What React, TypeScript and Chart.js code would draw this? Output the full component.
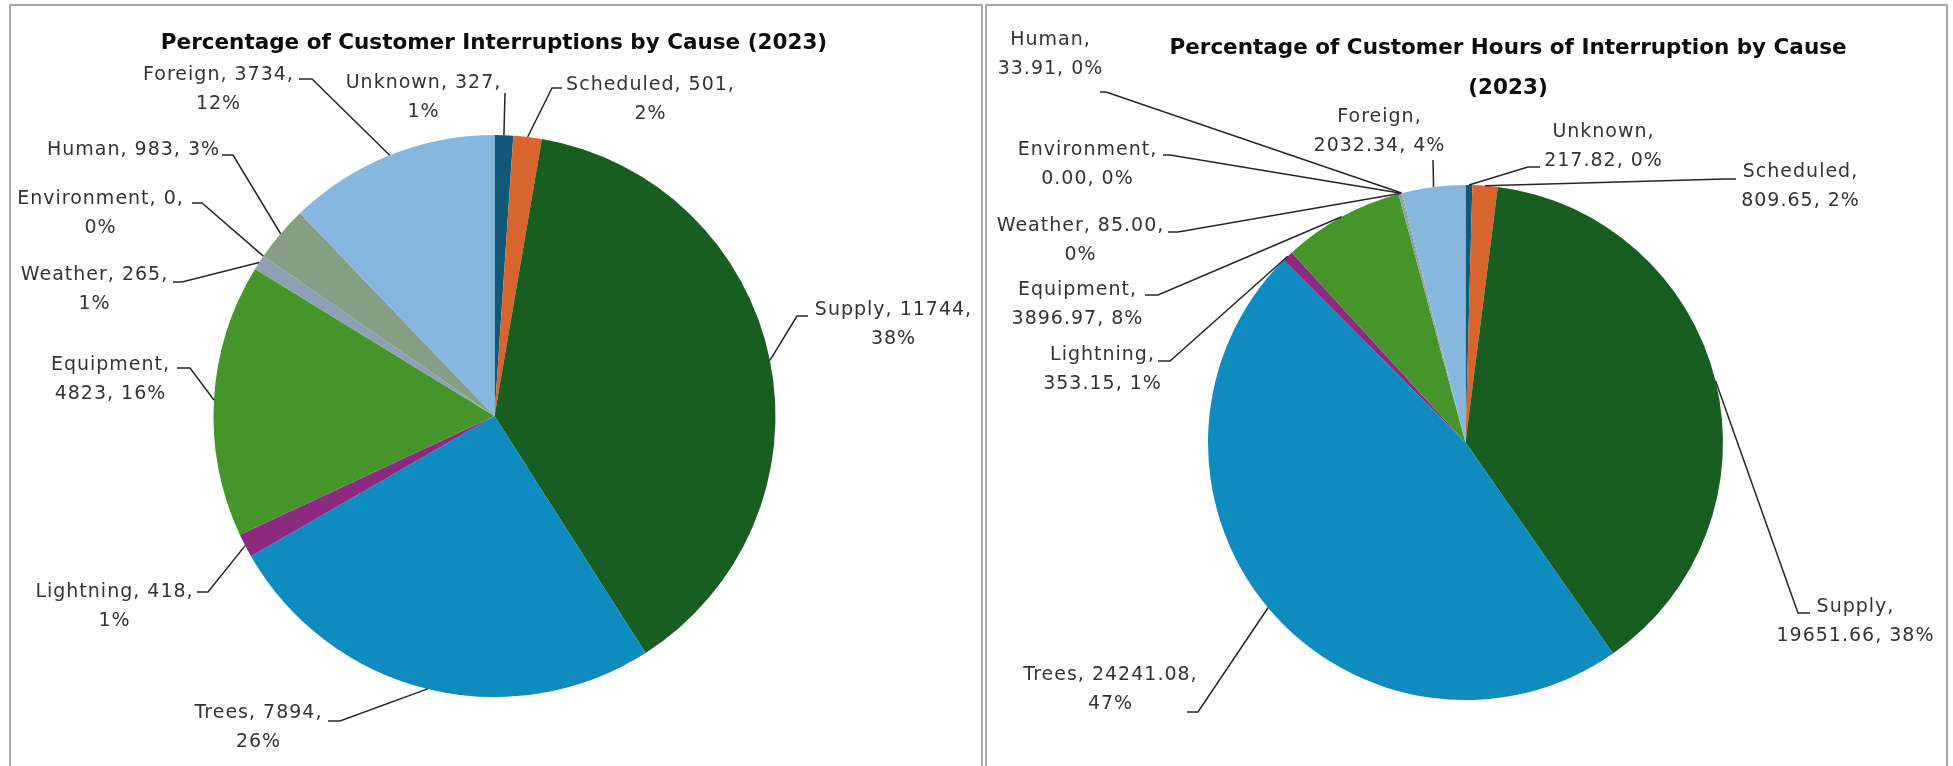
import React, { useEffect, useRef } from 'react';
import { Chart, registerables } from 'chart.js';

Chart.register(...registerables);

const PAGE_W = 1953;
const PAGE_H = 766;

// ---------- data ----------
const causes = ['Unknown', 'Scheduled', 'Supply', 'Trees', 'Lightning', 'Equipment', 'Weather', 'Environment', 'Human', 'Foreign'];
const customerInterruptions = [327, 501, 11744, 7894, 418, 4823, 265, 0, 983, 3734];
const customerHours = [217.82, 809.65, 19651.66, 24241.08, 353.15, 3896.97, 85.0, 0.0, 33.91, 2032.34];
const causeColors = ['#11587B', '#D8652E', '#185E21', '#0E8CBF', '#8C2A82', '#46952A', '#8DA0B6', '#9B9B9B', '#879E86', '#86B8DF'];

const leftTitleLines = ['Percentage of Customer Interruptions by Cause (2023)'];
const rightTitleLines = ['Percentage of Customer Hours of Interruption by Cause', '(2023)'];

// ---------- layout (pie geometry, label placement) ----------
const leftPieBox = { cx: 494.5, cy: 416, r: 281 };
const rightPieBox = { cx: 1465.5, cy: 442.5, r: 257.5 };
const leftTitlePos = { x: 494, y: 43, lh: 40 };
const rightTitlePos = { x: 1508, y: 48, lh: 40 };

// [textCenterX, firstLineY, partsOnFirstLine, leaderStartX, leaderStartY, elbowX, elbowY]
const leftLabelLayout = [
  [423, 83, 2, 505, 93, 505, 93],
  [650, 85, 2, 562, 88, 552, 88],
  [893, 310, 2, 808, 316, 797, 316],
  [258, 713, 2, 328, 721, 340, 721],
  [114, 592, 2, 197, 592, 208, 592],
  [110, 365, 1, 177, 368, 190, 368],
  [94, 275, 2, 173, 282, 182, 282],
  [100, 199, 2, 192, 203, 202, 203],
  [133, 150, 3, 222, 155, 233, 155],
  [218, 75, 2, 299, 79, 312, 79],
];
const rightLabelLayout = [
  [1603, 132, 1, 1540, 167, 1528, 167],
  [1800, 172, 1, 1736, 179, 1725, 179],
  [1855, 607, 1, 1810, 613, 1798, 613],
  [1110, 675, 2, 1187, 712, 1198, 712],
  [1102, 355, 1, 1158, 361, 1170, 361],
  [1077, 290, 1, 1145, 295, 1158, 295],
  [1080, 226, 2, 1168, 232, 1178, 232],
  [1087, 150, 1, 1163, 155, 1170, 155],
  [1050, 40, 1, 1100, 92, 1106, 92],
  [1379, 117, 1, 1433, 160, 1433, 160],
];

const LABEL_FONT = '19px "DejaVu Sans"';
const TITLE_FONT = 'bold 21.5px "DejaVu Sans"';
const LABEL_LH = 29;

function labelLines(name: string, valueText: string, pct: number, breakAfter: number): string[] {
  const parts = [name + ',', valueText + ',', pct + '%'];
  const l1 = parts.slice(0, breakAfter).join(' ');
  const l2 = parts.slice(breakAfter).join(' ');
  return l2 ? [l1, l2] : [l1];
}

function makeCalloutPlugin(
  titleLines: string[],
  titlePos: { x: number; y: number; lh: number },
  values: number[],
  decimals: number,
  layout: number[][]
) {
  return {
    id: 'callouts',
    afterDraw(chart: any) {
      const ctx: CanvasRenderingContext2D = chart.ctx;
      const meta = chart.getDatasetMeta(0);
      const total = values.reduce((a, b) => a + b, 0);
      ctx.save();
      // title
      ctx.fillStyle = '#0D0D0D';
      ctx.font = TITLE_FONT;
      (ctx as any).letterSpacing = '0px';
      ctx.textAlign = 'center';
      ctx.textBaseline = 'middle';
      titleLines.forEach((t, k) => ctx.fillText(t, titlePos.x, titlePos.y + k * titlePos.lh));

      // leaders + labels
      ctx.strokeStyle = '#262626';
      ctx.lineWidth = 1.5;
      ctx.font = LABEL_FONT;
      (ctx as any).letterSpacing = '1px';
      ctx.fillStyle = '#333333';
      meta.data.forEach((arc: any, i: number) => {
        const p = arc.getProps(['x', 'y', 'startAngle', 'endAngle', 'outerRadius'], true);
        const mid = (p.startAngle + p.endAngle) / 2;
        const ax = p.x + Math.cos(mid) * p.outerRadius;
        const ay = p.y + Math.sin(mid) * p.outerRadius;
        const [tx, ty, brk, sx, sy, ex, ey] = layout[i];
        ctx.beginPath();
        ctx.moveTo(sx, sy);
        ctx.lineTo(ex, ey);
        ctx.lineTo(ax, ay);
        ctx.stroke();
        const pct = Math.round((values[i] / total) * 100);
        const lines = labelLines(causes[i], values[i].toFixed(decimals), pct, brk);
        lines.forEach((ln, k) => ctx.fillText(ln, tx + 0.5, ty + k * LABEL_LH));
      });
      ctx.restore();
    },
  };
}

function padFor(box: { cx: number; cy: number; r: number }) {
  return {
    left: box.cx - box.r,
    right: PAGE_W - (box.cx + box.r),
    top: box.cy - box.r,
    bottom: PAGE_H - (box.cy + box.r),
  };
}

function buildPie(
  canvas: HTMLCanvasElement,
  values: number[],
  box: { cx: number; cy: number; r: number },
  plugin: any
) {
  return new Chart(canvas, {
    type: 'pie',
    data: {
      labels: causes,
      datasets: [
        {
          data: values,
          backgroundColor: causeColors,
          borderWidth: 0,
        },
      ],
    },
    options: {
      responsive: false,
      maintainAspectRatio: false,
      animation: false,
      events: [],
      devicePixelRatio: 1,
      layout: { padding: padFor(box) },
      plugins: {
        legend: { display: false },
        tooltip: { enabled: false },
        title: { display: false },
      },
    },
    plugins: [plugin],
  } as any);
}

export default function App() {
  const leftRef = useRef<HTMLCanvasElement | null>(null);
  const rightRef = useRef<HTMLCanvasElement | null>(null);

  useEffect(() => {
    const charts: Chart[] = [];
    if (leftRef.current) {
      charts.push(
        buildPie(
          leftRef.current,
          customerInterruptions,
          leftPieBox,
          makeCalloutPlugin(leftTitleLines, leftTitlePos, customerInterruptions, 0, leftLabelLayout)
        )
      );
    }
    if (rightRef.current) {
      charts.push(
        buildPie(
          rightRef.current,
          customerHours,
          rightPieBox,
          makeCalloutPlugin(rightTitleLines, rightTitlePos, customerHours, 2, rightLabelLayout)
        )
      );
    }
    return () => charts.forEach((c) => c.destroy());
  }, []);

  const canvasStyle: React.CSSProperties = {
    position: 'absolute',
    left: 0,
    top: 0,
    width: PAGE_W,
    height: PAGE_H,
  };
  const panelBorder = '2px solid #A9A9A9';

  return (
    <div
      style={{
        position: 'absolute',
        left: 0,
        top: 0,
        width: PAGE_W,
        height: PAGE_H,
        overflow: 'hidden',
        background: '#FFFFFF',
      }}
    >
      <div
        style={{
          position: 'absolute',
          left: 9,
          top: 4,
          width: 974,
          height: 800,
          borderLeft: panelBorder,
          borderTop: panelBorder,
          borderRight: panelBorder,
          boxSizing: 'border-box',
        }}
      />
      <div
        style={{
          position: 'absolute',
          left: 985,
          top: 4,
          width: 963,
          height: 800,
          borderLeft: panelBorder,
          borderTop: panelBorder,
          borderRight: panelBorder,
          boxSizing: 'border-box',
        }}
      />
      <canvas ref={leftRef} width={PAGE_W} height={PAGE_H} style={canvasStyle} />
      <canvas ref={rightRef} width={PAGE_W} height={PAGE_H} style={canvasStyle} />
    </div>
  );
}
